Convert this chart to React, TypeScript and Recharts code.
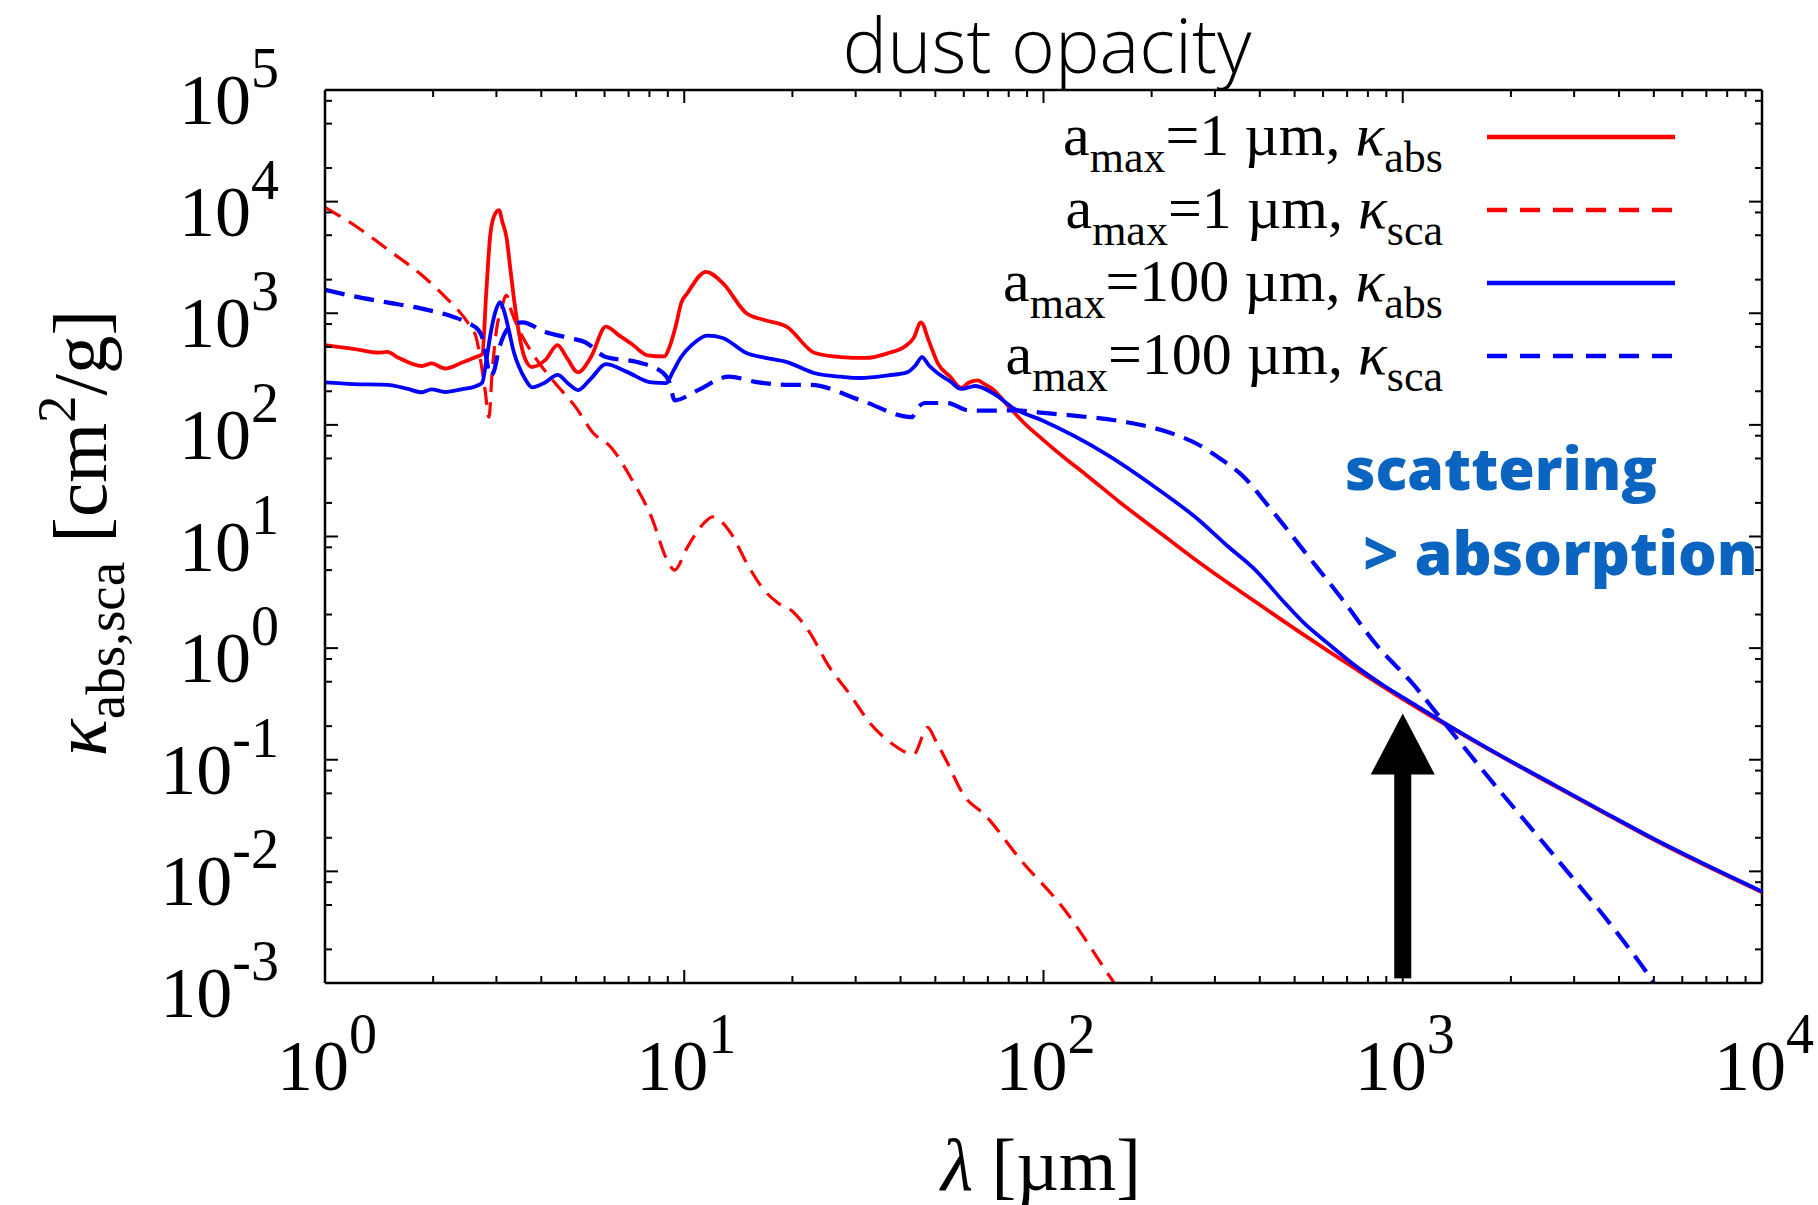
import { LineChart, Line, XAxis, YAxis, ReferenceLine, Legend, Label } from 'recharts';

const W = 1818;
const H = 1205;
const PLOT = { left: 325, top: 90, right: 1762, bottom: 983 };

const SERIF = '"Liberation Serif", "Times New Roman", serif';
const SANS = '"Open Sans", sans-serif';
const RED = '#ff0000';
const BLUE = '#0000ff';
const NOTE_BLUE = '#0b64c0';

// a_max = 1 um, kappa_abs
const ABS1_LAMBDA = [1, 1.2, 1.41, 1.49, 1.6, 1.86, 1.98, 2.16, 2.4, 2.63, 2.74, 2.81, 2.88, 2.95, 3.05, 3.12, 3.2, 3.28, 3.36, 3.47, 3.59, 3.77, 4.1, 4.44, 4.7, 5.06, 5.5, 6.05, 6.6, 7.2, 7.9, 8.8, 9.1, 9.5, 9.8, 10.2, 11.5, 12.8, 14.9, 16.7, 19.3, 23.1, 27.3, 32, 37, 41, 43.5, 45.6, 48, 50.8, 55, 59, 62, 65.7, 68, 72.8, 78.7, 88, 99, 115, 131, 164, 215, 283, 389, 537, 740, 973, 1337, 1900, 2655, 3600, 5040, 7000, 10000];
const ABS1_KAPPA = [519, 480, 443, 450, 400, 337, 355, 320, 360, 405, 430, 1500, 4800, 7300, 8400, 6500, 4800, 2500, 1320, 650, 405, 330, 380, 519, 405, 295, 405, 760, 630, 520, 420, 410, 500, 800, 1230, 1510, 2350, 1860, 1000, 870, 755, 440, 405, 398, 440, 500, 600, 830, 560, 356, 270, 214, 240, 250, 235, 205, 155, 105, 75, 50, 36, 20, 10.3, 5.3, 2.6, 1.28, 0.65, 0.37, 0.2, 0.105, 0.058, 0.034, 0.019, 0.0112, 0.0065];

// a_max = 1 um, kappa_sca
const SCA1_LAMBDA = [1, 1.23, 1.5, 1.89, 2.17, 2.5, 2.63, 2.72, 2.79, 2.86, 2.92, 3.0, 3.1, 3.2, 3.3, 3.47, 3.84, 4.37, 4.98, 5.57, 6.25, 7.16, 8.1, 8.95, 9.4, 10.2, 11.3, 12.0, 13.3, 15.1, 16.7, 18.2, 20, 22.4, 25.1, 29, 33, 37.8, 43.5, 47.6, 50, 53.5, 60, 68.7, 86.5, 114, 155, 175];
const SCA1_KAPPA = [8900, 5900, 3700, 2100, 1380, 820, 620, 355, 205, 117, 300, 700, 1100, 1450, 1050, 710, 405, 237, 145, 85, 63, 32, 15, 6.2, 5.0, 8.0, 13, 15, 11.4, 5.4, 3.3, 2.55, 2.14, 1.36, 0.71, 0.38, 0.21, 0.14, 0.112, 0.195, 0.15, 0.1, 0.048, 0.032, 0.0126, 0.0046, 0.00107, 0.0006];

// a_max = 100 um, kappa_abs
const ABS100_LAMBDA = [1, 1.2, 1.49, 1.7, 1.86, 1.98, 2.16, 2.4, 2.63, 2.74, 2.82, 2.9, 3.0, 3.07, 3.15, 3.25, 3.36, 3.47, 3.6, 3.77, 4.1, 4.44, 4.75, 5.06, 5.5, 6.05, 6.9, 8.1, 8.9, 9.3, 9.8, 10.5, 11.6, 12.8, 14.9, 16.7, 19.3, 23.1, 27.3, 31, 37, 41.7, 44, 45.9, 48, 50.8, 55, 59, 64.6, 72.8, 82.8, 99, 149, 205, 271, 324, 389, 469, 537, 615, 740, 887, 1066, 1337, 1900, 2655, 3600, 5040, 7000, 10000];
const ABS100_KAPPA = [240, 232, 228, 210, 196, 208, 197, 208, 222, 240, 400, 700, 1100, 1260, 1050, 700, 440, 330, 260, 217, 240, 280, 235, 205, 260, 350, 300, 240, 237, 300, 405, 520, 630, 600, 440, 400, 365, 290, 270, 263, 278, 295, 340, 405, 340, 290, 245, 210, 223, 190, 140, 110, 55, 27.5, 14, 8.3, 5.0, 2.55, 1.62, 1.12, 0.69, 0.46, 0.32, 0.204, 0.106, 0.059, 0.0345, 0.0193, 0.0114, 0.0066];

// a_max = 100 um, kappa_sca
const SCA100_LAMBDA = [1, 1.2, 1.49, 1.86, 2.27, 2.5, 2.68, 2.76, 2.82, 2.88, 2.95, 3.05, 3.15, 3.3, 3.54, 4.1, 4.8, 5.3, 6.05, 7.4, 8.7, 9.1, 9.4, 10.9, 13.3, 16.1, 19.7, 22.4, 31, 43, 44.5, 46.8, 54, 61.7, 70, 82.8, 100, 125, 172, 225, 271, 310, 355, 427, 537, 675, 849, 1066, 1280, 1683, 2655, 3990, 4900, 5600];
const SCA100_KAPPA = [1620, 1420, 1250, 1100, 930, 820, 700, 560, 380, 275, 300, 480, 640, 780, 830, 680, 600, 550, 405, 365, 295, 240, 166, 204, 270, 240, 228, 228, 166, 117, 140, 157, 157, 135, 134, 135, 128, 120, 105, 85, 66, 50, 36, 18, 7.1, 2.8, 1.05, 0.48, 0.232, 0.078, 0.0135, 0.0027, 0.0011, 0.00055];

// arrow marking ~1 mm
const ARROW_LAMBDA = 1000;
const ARROW_KAPPA = [0.0011, 0.26];

const X_MAJOR = [1, 10, 100, 1000, 10000];
const X_EXP = ['0', '1', '2', '3', '4'];
const X_MINOR_STEPS = [2, 3, 4, 5, 6, 7, 8, 9];
const Y_MAJOR = [1e-3, 1e-2, 1e-1, 1, 10, 100, 1000, 1e4, 1e5];
const Y_EXP = ['-3', '-2', '-1', '0', '1', '2', '3', '4', '5'];
const Y_MINOR_STEPS = [2, 5, 8];

const zip = (xs: number[], ys: number[]) => xs.map((lambda, i) => ({ lambda, kappa: ys[i] }));

const SERIES = [
  { key: 'abs1', size: '1', kind: 'abs', data: zip(ABS1_LAMBDA, ABS1_KAPPA), color: RED, dash: undefined, width: 3.8 },
  { key: 'sca1', size: '1', kind: 'sca', data: zip(SCA1_LAMBDA, SCA1_KAPPA), color: RED, dash: '18 10', width: 3.2 },
  { key: 'abs100', size: '100', kind: 'abs', data: zip(ABS100_LAMBDA, ABS100_KAPPA), color: BLUE, dash: undefined, width: 3.8 },
  { key: 'sca100', size: '100', kind: 'sca', data: zip(SCA100_LAMBDA, SCA100_KAPPA), color: BLUE, dash: '20 10', width: 4.2 },
];

const xTicks = X_MAJOR.slice(0, -1).flatMap((d) => [d, ...X_MINOR_STEPS.map((m) => m * d)]).concat([X_MAJOR[X_MAJOR.length - 1]]);
const yTicks = Y_MAJOR.slice(0, -1).flatMap((d) => [d, ...Y_MINOR_STEPS.map((m) => m * d)]).concat([Y_MAJOR[Y_MAJOR.length - 1]]);

function XTick(props: any) {
  const { x, payload } = props;
  const i = X_MAJOR.indexOf(payload.value);
  const len = i >= 0 ? 13 : 7;
  return (
    <g>
      <line x1={x} x2={x} y1={PLOT.bottom} y2={PLOT.bottom - len} stroke="#000" strokeWidth={2} />
      <line x1={x} x2={x} y1={PLOT.top} y2={PLOT.top + len} stroke="#000" strokeWidth={2} />
      {i >= 0 && (
        <text x={x + 2} y={1090} textAnchor="middle" fontFamily={SERIF} fontSize={72} fill="#000">
          10<tspan dy={-37} fontSize={56}>{X_EXP[i]}</tspan>
        </text>
      )}
    </g>
  );
}

function YTick(props: any) {
  const { y, payload } = props;
  const i = Y_MAJOR.indexOf(payload.value);
  const len = i >= 0 ? 13 : 7;
  return (
    <g>
      <line x1={PLOT.left} x2={PLOT.left + len} y1={y} y2={y} stroke="#000" strokeWidth={2} />
      <line x1={PLOT.right} x2={PLOT.right - len} y1={y} y2={y} stroke="#000" strokeWidth={2} />
      {i >= 0 && (
        <text x={PLOT.left - 46} y={y + 34} textAnchor="end" fontFamily={SERIF} fontSize={72} fill="#000">
          10<tspan dy={-37} fontSize={56}>{Y_EXP[i]}</tspan>
        </text>
      )}
    </g>
  );
}

function YLabel() {
  return (
    <text x={106} y={533} transform="rotate(-90 106 533)" textAnchor="middle" fontFamily={SERIF} fontSize={77} fill="#000">
      <tspan fontStyle="italic">κ</tspan>
      <tspan dy={18} fontSize={55}>abs,sca</tspan>
      <tspan dy={-18}> [cm</tspan>
      <tspan dy={-31} fontSize={55}>2</tspan>
      <tspan dy={31}>/g]</tspan>
    </text>
  );
}

function XLabel() {
  return (
    <text x={1041} y={1190} textAnchor="middle" fontFamily={SERIF} fontSize={74} fill="#000">
      <tspan fontStyle="italic">λ</tspan> [µm]
    </text>
  );
}

function ArrowShape(props: any) {
  const { x1, y1, y2 } = props;
  const tip = Math.min(y1, y2);
  const base = Math.max(y1, y2);
  const head = 61;
  return (
    <g>
      <rect x={x1 - 8.5} y={tip + head - 1} width={17} height={base - tip - head + 1} fill="#000" />
      <polygon points={`${x1},${tip} ${x1 - 32},${tip + head} ${x1 + 32},${tip + head}`} fill="#000" />
    </g>
  );
}

function LegendBox() {
  return (
    <svg width={720} height={300}>
      {SERIES.map((s, i) => {
        const ly = 37 + i * 73;
        return (
          <g key={s.key}>
            <text x={443} y={ly + 18} textAnchor="end" fontFamily={SERIF} fontSize={60} fill="#000">
              a<tspan dy={17} fontSize={44}>max</tspan>
              <tspan dy={-17}>={s.size} µm, </tspan>
              <tspan fontStyle="italic">κ</tspan>
              <tspan dy={17} fontSize={44}>{s.kind}</tspan>
            </text>
            <line x1={487} x2={675} y1={ly} y2={ly} stroke={s.color} strokeWidth={4.5} strokeDasharray={s.dash ? '20 13' : undefined} />
          </g>
        );
      })}
    </svg>
  );
}

export default function App() {
  return (
    <div style={{ position: 'absolute', left: 0, top: 0, width: W, height: H, background: '#fff' }}>
      <LineChart width={W} height={H} margin={{ top: PLOT.top, right: W - PLOT.right, bottom: 0, left: 0 }}>
        <XAxis
          dataKey="lambda"
          type="number"
          scale="log"
          domain={[1, 10000]}
          allowDataOverflow
          ticks={xTicks}
          interval={0}
          tickSize={0}
          tickMargin={0}
          tickLine={false}
          height={H - PLOT.bottom}
          axisLine={{ stroke: '#000', strokeWidth: 2.5 }}
          tick={<XTick />}
          label={<Label content={<XLabel />} />}
        />
        <YAxis
          type="number"
          scale="log"
          domain={[1e-3, 1e5]}
          allowDataOverflow
          ticks={yTicks}
          interval={0}
          tickSize={0}
          tickMargin={0}
          tickLine={false}
          width={PLOT.left}
          axisLine={{ stroke: '#000', strokeWidth: 2.5 }}
          tick={<YTick />}
          label={<Label content={<YLabel />} />}
        />
        <ReferenceLine y={1e5} stroke="#000" strokeWidth={2.5} />
        <ReferenceLine x={10000} stroke="#000" strokeWidth={2.5} />
        {SERIES.map((s) => (
          <Line
            key={s.key}
            data={s.data}
            dataKey="kappa"
            type="monotoneX"
            stroke={s.color}
            strokeWidth={s.width}
            strokeDasharray={s.dash}
            dot={false}
            activeDot={false}
            isAnimationActive={false}
          />
        ))}
        <ReferenceLine
          segment={[{ x: ARROW_LAMBDA, y: ARROW_KAPPA[0] }, { x: ARROW_LAMBDA, y: ARROW_KAPPA[1] }]}
          shape={<ArrowShape />}
          ifOverflow="visible"
        />
        <Legend
          layout="horizontal"
          verticalAlign="middle"
          align="center"
          content={<LegendBox />}
          wrapperStyle={{ position: 'absolute', left: 1000, top: 100, width: 720, height: 300 }}
        />
      </LineChart>
      <svg width={W} height={H} style={{ position: 'absolute', left: 0, top: 0, pointerEvents: 'none' }}>
        <text x={1047} y={73} textAnchor="middle" fontFamily={SANS} fontWeight={300} fontSize={75} fill="#000">
          dust opacity
        </text>
        <text x={1345} y={490} fontFamily={SANS} fontWeight={800} fontSize={59} fill={NOTE_BLUE}>
          scattering
        </text>
        <text x={1363} y={575} fontFamily={SANS} fontWeight={800} fontSize={61} fill={NOTE_BLUE}>
          &gt; absorption
        </text>
      </svg>
    </div>
  );
}
